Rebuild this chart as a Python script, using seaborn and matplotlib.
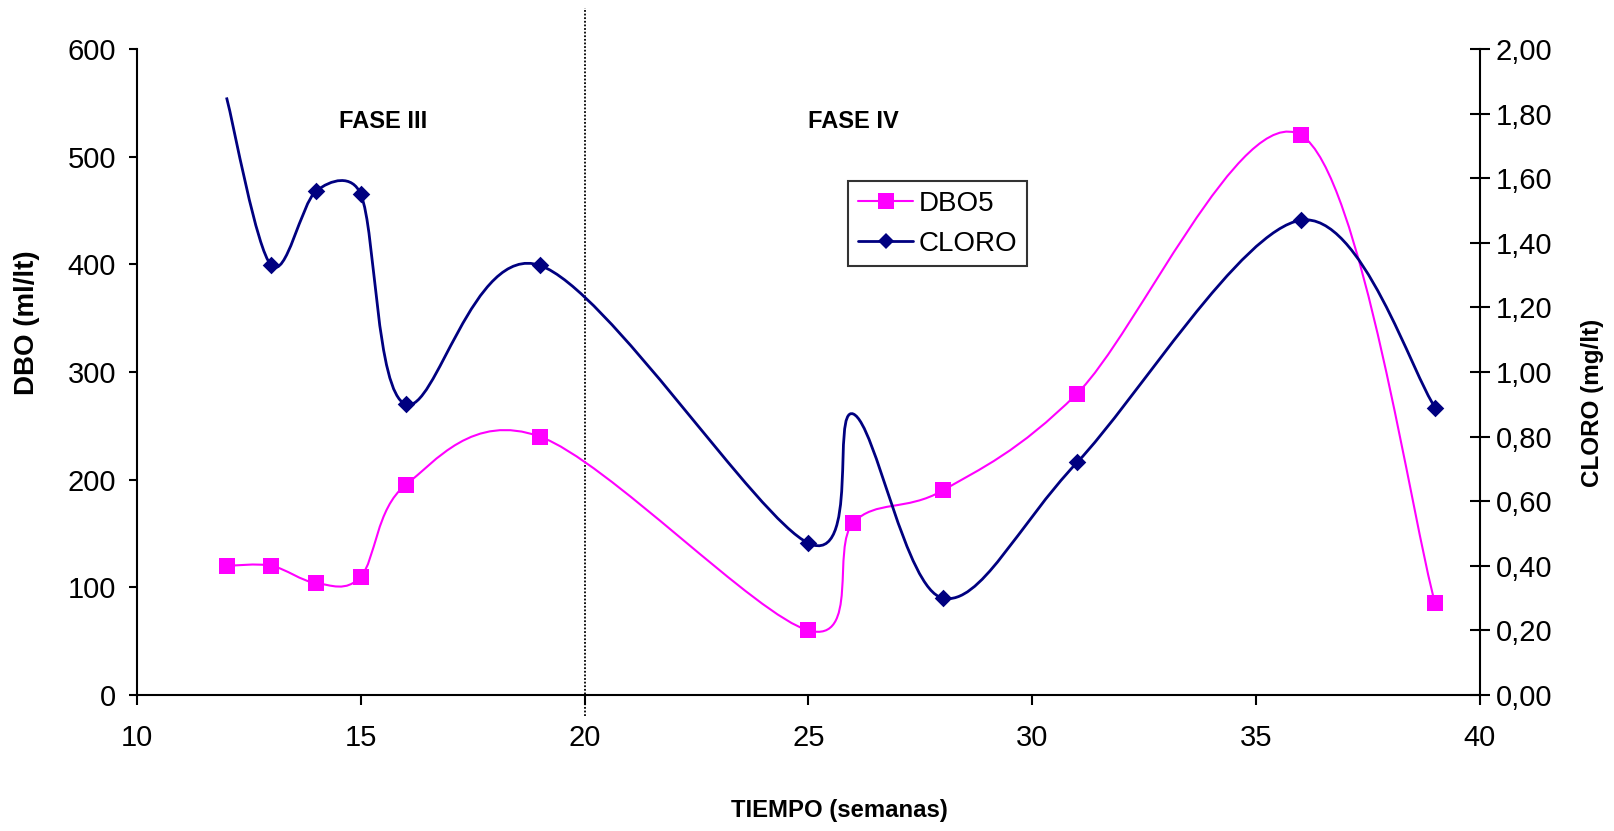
import numpy as np
import pandas as pd
import matplotlib
matplotlib.use("Agg")
import matplotlib.pyplot as plt
from matplotlib.path import Path
from matplotlib.patches import PathPatch
from matplotlib.lines import Line2D
import matplotlib.ticker as mticker
import seaborn as sns

# ---------------- data ----------------
semanas_dbo = [12, 13, 14, 15, 16, 19, 25, 26, 28, 31, 36, 39]
dbo5 = [120, 120, 104, 110, 195, 240, 60, 160, 190, 280, 520, 85]

semanas_cloro = [12, 13, 14, 15, 16, 19, 25, 26, 28, 31, 36, 39]
cloro = [1.85, 1.33, 1.56, 1.55, 0.90, 1.33, 0.47, 0.87, 0.30, 0.72, 1.47, 0.89]
cloro_sin_marcador = [12, 26]   # weeks drawn without a marker

x_ticks = [10, 15, 20, 25, 30, 35, 40]
dbo_ticks = [0, 100, 200, 300, 400, 500, 600]
cloro_ticks = [0.0, 0.2, 0.4, 0.6, 0.8, 1.0, 1.2, 1.4, 1.6, 1.8, 2.0]
fases = ["FASE III", "FASE IV"]

MAGENTA = "#FF00FF"
NAVY = "#000080"

sns.set_theme(style="white")
plt.rcParams["font.family"] = ["Liberation Sans", "DejaVu Sans"]
plt.rcParams["text.color"] = "black"
plt.rcParams["axes.labelcolor"] = "black"
plt.rcParams["xtick.color"] = "black"
plt.rcParams["ytick.color"] = "black"

fig = plt.figure(figsize=(16.15, 8.31), dpi=100)
ax = fig.add_axes([137 / 1615, 1 - 695 / 831, (1480 - 137) / 1615, (695 - 49) / 831])
ax2 = ax.twinx()

ax.set_xlim(10, 40)
ax.set_ylim(0, 600)
ax2.set_ylim(0, 2.0)


def excel_smooth_path(xs, ys, sx, sy):
    """Bezier path (Excel-style smoothed line) through the data points.
    sx, sy: approximate pixel scale, used for tension limiting."""
    P = np.column_stack([np.asarray(xs, float) * sx, np.asarray(ys, float) * sy])
    n = len(P)
    verts = [P[0]]
    codes = [Path.MOVETO]
    for i in range(n - 1):
        p0 = P[i - 1] if i > 0 else P[i]
        p1 = P[i]
        p2 = P[i + 1]
        p3 = P[i + 2] if i + 2 < n else P[i + 1]
        d02 = np.linalg.norm(p2 - p0)
        d12 = np.linalg.norm(p2 - p1)
        d13 = np.linalg.norm(p3 - p1)
        f = 1 / 6 if d02 / 6 < d12 / 2 else (d12 / (2 * d02) if d02 > 0 else 0)
        g = 1 / 6 if d13 / 6 < d12 / 2 else (d12 / (2 * d13) if d13 > 0 else 0)
        c1 = p1 + f * (p2 - p0)
        c2 = p2 - g * (p3 - p1)
        verts += [c1, c2, p2]
        codes += [Path.CURVE4] * 3
    V = np.array(verts)
    V[:, 0] /= sx
    V[:, 1] /= sy
    return Path(V, codes)


SX = 44.77
# DBO5 smooth line (left axis)
ax.add_patch(PathPatch(excel_smooth_path(semanas_dbo, dbo5, SX, 646 / 600),
                       facecolor="none", edgecolor=MAGENTA, lw=1.5, zorder=3))
# CLORO smooth line (right axis)
ax2.add_patch(PathPatch(excel_smooth_path(semanas_cloro, cloro, SX, 646 / 2.0),
                        facecolor="none", edgecolor=NAVY, lw=2.0, zorder=3))

# markers
df_dbo = pd.DataFrame({"semana": semanas_dbo, "valor": dbo5})
sns.scatterplot(data=df_dbo, x="semana", y="valor", ax=ax, marker="s", s=120,
                color=MAGENTA, edgecolor=MAGENTA, linewidth=0, zorder=4, legend=False)
df_cl = pd.DataFrame({"semana": semanas_cloro, "valor": cloro})
df_cl_m = df_cl[~df_cl["semana"].isin(cloro_sin_marcador)]
sns.scatterplot(data=df_cl_m, x="semana", y="valor", ax=ax2, marker="D", s=80,
                color=NAVY, edgecolor=NAVY, linewidth=0, zorder=4, legend=False)

# phase separator
ax.axvline(20, ymin=-0.033, ymax=1.063, color="black", lw=1.3,
           linestyle=(0, (1, 1)), clip_on=False, zorder=2)

# phase labels
ax.text(15.5, 533, fases[0], ha="center", va="center", fontsize=17, fontweight="bold")
ax.text(26.0, 533, fases[1], ha="center", va="center", fontsize=17, fontweight="bold")

# axes styling
for a in (ax, ax2):
    for s in a.spines.values():
        s.set_linewidth(1.5)
        s.set_color("black")
    a.spines["top"].set_visible(False)
ax.spines["right"].set_visible(False)
ax2.spines["left"].set_visible(False)
ax2.spines["bottom"].set_visible(False)

ax.set_xticks(x_ticks)
ax.set_yticks(dbo_ticks)
ax2.set_yticks(cloro_ticks)
ax2.yaxis.set_major_formatter(mticker.FuncFormatter(lambda v, p: f"{v:.2f}".replace(".", ",")))

ax.tick_params(axis="x", direction="out", length=7, width=1.5, labelsize=21, pad=14,
               bottom=True, colors="black")
ax.tick_params(axis="y", direction="out", length=6, width=1.5, labelsize=21, pad=9,
               left=True, colors="black")
ax2.tick_params(axis="y", direction="inout", length=15, width=1.5, labelsize=21, pad=4,
                right=True, colors="black")

ax.set_xlabel("TIEMPO (semanas)", fontsize=17.2, fontweight="bold", color="black")
ax.set_ylabel("DBO (ml/lt)", fontsize=20, fontweight="bold", color="black")
ax2.set_ylabel("CLORO (mg/lt)", fontsize=17.5, fontweight="bold", rotation=90, color="black")
ax.xaxis.set_label_coords((839 - 137) / 1343, (695 - 811) / 646)
ax.xaxis.label.set_va("center")
ax.yaxis.set_label_coords((27 - 137) / 1343, (695 - 323) / 646)
ax.yaxis.label.set_va("center")
ax2.yaxis.set_label_coords((1593 - 137) / 1343, (695 - 403) / 646)
ax2.yaxis.label.set_va("center")

ax.grid(False)
ax2.grid(False)

handles = [
    Line2D([], [], color=MAGENTA, lw=1.5, marker="s", markersize=11, markeredgewidth=0),
    Line2D([], [], color=NAVY, lw=2.0, marker="D", markersize=8, markeredgewidth=0),
]
leg = fig.legend(handles, ["DBO5", "CLORO"], loc="upper left",
                 bbox_to_anchor=(848 / 1615, 1 - 181 / 831), bbox_transform=fig.transFigure,
                 fontsize=20, frameon=True, fancybox=False, edgecolor="black",
                 handlelength=2.0, handletextpad=0.2, labelspacing=0.5,
                 borderpad=0.35, borderaxespad=0)
leg.get_frame().set_linewidth(1.5)
for t in leg.get_texts():
    t.set_color("black")

fig.savefig("out.png", dpi=100)
